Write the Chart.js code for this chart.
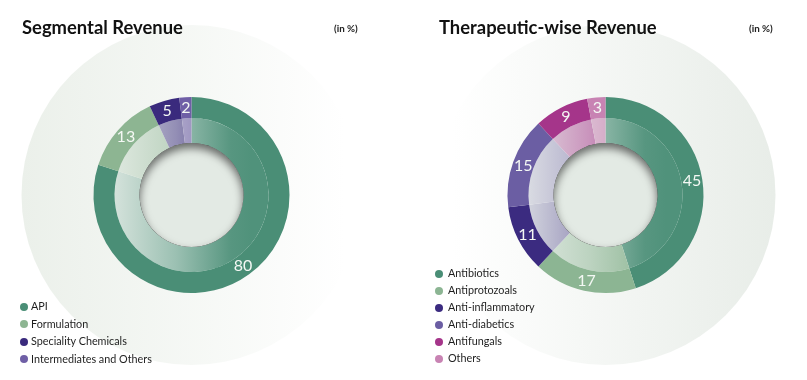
<!DOCTYPE html>
<html>
<head>
<meta charset="utf-8">
<script src="https://cdn.jsdelivr.net/npm/chart.js@4.4.0/dist/chart.umd.min.js"></script>
<style>
body { margin: 0; background: #fff; font-family: Lato, "Open Sans", sans-serif; }
#wrap { position: relative; width: 807px; height: 380px; overflow: hidden; }
canvas { position: absolute; top: 0; }
.title { position: absolute; top: 17.5px; font-weight: bold; font-size: 18.4px; line-height: 1; color: #111; white-space: nowrap; z-index: 2; }
.unit { position: absolute; top: 24px; font-size: 9.8px; font-weight: bold; line-height: 1; color: #222; z-index: 2; }
.legend { position: absolute; font-size: 10.8px; color: #1e1e1e; z-index: 2; }
.legend div { white-space: nowrap; }
.legend span { display: inline-block; width: 8px; height: 8px; border-radius: 50%; vertical-align: -0.5px; }
</style>
</head>
<body>
<div id="wrap">
  <canvas id="segChart" width="403" height="380" style="left:0"></canvas>
  <canvas id="theraChart" width="404" height="380" style="left:403px"></canvas>
  <div class="title" style="left:22px">Segmental Revenue</div>
  <div class="unit" style="left:334px">(in %)</div>
  <div class="title" style="left:439px">Therapeutic-wise Revenue</div>
  <div class="unit" style="left:749px">(in %)</div>
  <div class="legend" id="segLegend" style="left:20px; top:297px"></div>
  <div class="legend" id="theraLegend" style="left:435px; top:264px"></div>
</div>

<script>
// data
var segLabels = ["API", "Formulation", "Speciality Chemicals", "Intermediates and Others"];
var segValues = [80, 13, 5, 2];
var segColors = ["#4a8e76", "#8db592", "#3a2a7d", "#6f5fa6"];

var theraLabels = ["Antibiotics", "Antiprotozoals", "Anti-inflammatory", "Anti-diabetics", "Antifungals", "Others"];
var theraValues = [45, 17, 11, 15, 9, 3];
var theraColors = ["#4a8e76", "#8cb593", "#3b2b80", "#6b5ea3", "#a5358a", "#c883b3"];

function mix(hex, t) {
    // blend a colour toward a pale grey-green
    var r = parseInt(hex.substr(1, 2), 16), g = parseInt(hex.substr(3, 2), 16), b = parseInt(hex.substr(5, 2), 16);
    var wr = 236, wg = 241, wb = 237;
    return "rgb(" + Math.round(r + (wr - r) * t) + "," + Math.round(g + (wg - g) * t) + "," + Math.round(b + (wb - b) * t) + ")";
}

function innerFill(colors) {
    return function(c) {
        var chart = c.chart, area = chart.chartArea;
        var base = colors[c.dataIndex];
        if (!area) return base;
        var cx = (area.left + area.right) / 2;
        var g = chart.ctx.createLinearGradient(cx - 77, 0, cx + 60, 0);
        g.addColorStop(0, mix(base, 0.85));
        g.addColorStop(0.45, mix(base, 0.5));
        g.addColorStop(0.85, mix(base, 0.08));
        g.addColorStop(1, mix(base, 0.04));
        return g;
    };
}

var ringPlugin = {
    id: "ringDecor",
    beforeDraw: function(chart, args, opts) {
        var ctx = chart.ctx, area = chart.chartArea;
        var cx = (area.left + area.right) / 2, cy = (area.top + area.bottom) / 2;
        var R = 170;
        var g;
        if (opts.side === "left") {
            g = ctx.createLinearGradient(cx - R, 0, cx + R * 0.9, 0);
            g.addColorStop(0, "#ebf0ea");
            g.addColorStop(1, "#ffffff");
        } else {
            g = ctx.createLinearGradient(cx - R * 0.9, 0, cx + R, 0);
            g.addColorStop(0, "#ffffff");
            g.addColorStop(1, "#e8ede8");
        }
        ctx.save();
        ctx.beginPath();
        ctx.arc(cx, cy, R, 0, Math.PI * 2);
        ctx.fillStyle = g;
        ctx.fill();
        ctx.restore();
    },
    afterDatasetsDraw: function(chart) {
        var ctx = chart.ctx;
        var outer = chart.getDatasetMeta(0).data;
        var inner = chart.getDatasetMeta(1).data;
        var x = outer[0].x, y = outer[0].y;
        var r = inner[0].innerRadius;

        // centre hole with inner shadow
        ctx.save();
        ctx.beginPath();
        ctx.arc(x, y, r, 0, Math.PI * 2);
        ctx.fillStyle = "#e3eae4";
        ctx.fill();
        ctx.clip();
        ctx.beginPath();
        ctx.arc(x, y, r + 30, 0, Math.PI * 2);
        ctx.arc(x, y, r, 0, Math.PI * 2, true);
        ctx.shadowColor = "rgba(0,0,0,0.55)";
        ctx.shadowBlur = 9;
        ctx.shadowOffsetY = 5;
        ctx.fillStyle = "#000";
        ctx.fill();
        ctx.restore();

        // value labels on the outer ring
        var values = chart.data.datasets[0].data;
        ctx.save();
        ctx.fillStyle = "#f4f8f4";
        ctx.font = "16px Lato";
        ctx.textAlign = "center";
        ctx.textBaseline = "middle";
        outer.forEach(function(arc, i) {
            var p = arc.getProps(["x", "y", "startAngle", "endAngle", "innerRadius", "outerRadius"], true);
            var mid = (p.startAngle + p.endAngle) / 2;
            var rr = (p.innerRadius + p.outerRadius) / 2;
            ctx.fillText(values[i], p.x + Math.cos(mid) * rr, p.y + Math.sin(mid) * rr);
        });
        ctx.restore();
    }
};

function makeChart(id, labels, values, colors, side, padding) {
    return new Chart(document.getElementById(id), {
        type: "doughnut",
        data: {
            labels: labels,
            datasets: [
                { data: values, backgroundColor: colors, borderWidth: 0, weight: 21, hoverOffset: 0 },
                { data: values, backgroundColor: innerFill(colors), borderWidth: 0, weight: 25, hoverOffset: 0 }
            ]
        },
        options: {
            responsive: false,
            animation: false,
            cutout: "53%",
            layout: { padding: padding },
            plugins: {
                legend: { display: false },
                tooltip: { enabled: true },
                ringDecor: { side: side }
            }
        },
        plugins: [ringPlugin]
    });
}

function buildLegend(id, labels, colors, rowH, gap) {
    var box = document.getElementById(id);
    labels.forEach(function(name, i) {
        var row = document.createElement("div");
        row.style.height = rowH + "px";
        row.style.lineHeight = rowH + "px";
        row.innerHTML = '<span style="background:' + colors[i] + ';margin-right:' + gap + 'px"></span>' + name;
        box.appendChild(row);
    });
}

makeChart("segChart", segLabels, segValues, segColors, "left",
    { left: 93, top: 97, right: 113, bottom: 87 });
makeChart("theraChart", theraLabels, theraValues, theraColors, "right",
    { left: 104, top: 97, right: 103, bottom: 87 });

buildLegend("segLegend", segLabels, segColors, 17.5, 3);
buildLegend("theraLegend", theraLabels, theraColors, 17, 5);
</script>
</body>
</html>
